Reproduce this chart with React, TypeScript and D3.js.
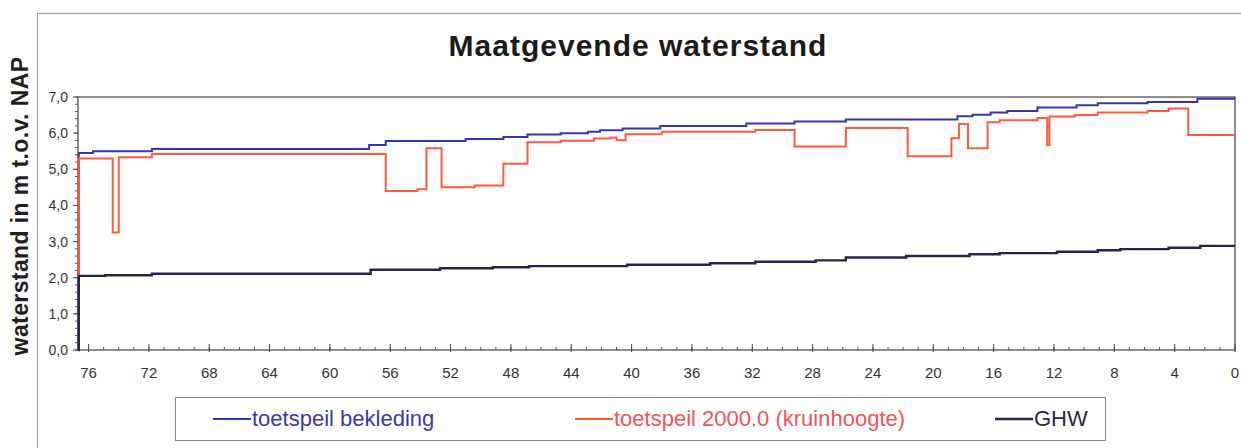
import { useEffect, useRef } from 'react';
import * as d3 from 'd3';

// km (dijkpaal) vs. waterstand
const toetspeilBekleding: [number, number][] = [
  [76.7, 0], [76.65, 5.45], [75.7, 5.5], [71.8, 5.56], [57.4, 5.67], [56.3, 5.78],
  [51.0, 5.84], [48.5, 5.89], [46.9, 5.96], [44.7, 6.0], [42.9, 6.04], [42.1, 6.08],
  [40.6, 6.13], [38.1, 6.2], [32.4, 6.27], [29.2, 6.32], [25.8, 6.38], [18.4, 6.47],
  [17.4, 6.51], [16.2, 6.57], [15.1, 6.61], [13.1, 6.71], [10.5, 6.77], [9.1, 6.83],
  [5.8, 6.86], [2.5, 6.95], [0, 6.95],
];

const toetspeil2000: [number, number][] = [
  [76.7, 0], [76.65, 5.3], [74.4, 3.25], [74.0, 5.33], [71.8, 5.42], [56.3, 4.4],
  [54.2, 4.45], [53.6, 5.58], [52.6, 4.5], [50.4, 4.55], [48.5, 5.15], [46.9, 5.75],
  [44.7, 5.79], [42.5, 5.85], [41.4, 5.88], [41.0, 5.8], [40.4, 5.97], [38.0, 6.04],
  [31.8, 6.09], [29.2, 5.63], [25.8, 6.14], [21.7, 5.36], [18.8, 5.86], [18.3, 6.25],
  [17.7, 5.58], [16.4, 6.3], [15.6, 6.36], [13.1, 6.42], [12.45, 5.67], [12.3, 6.46],
  [10.6, 6.5], [9.1, 6.57], [5.8, 6.61], [4.4, 6.68], [3.1, 5.95], [0, 5.95],
];

const ghw: [number, number][] = [
  [76.7, 0], [76.65, 2.05], [74.9, 2.07], [71.8, 2.11], [57.3, 2.22], [52.7, 2.26],
  [49.2, 2.29], [46.8, 2.32], [40.3, 2.36], [34.8, 2.4], [31.8, 2.44], [27.8, 2.48],
  [25.8, 2.56], [21.8, 2.6], [17.6, 2.65], [15.6, 2.68], [11.8, 2.72], [9.1, 2.76],
  [7.6, 2.79], [4.4, 2.83], [2.3, 2.88], [0, 2.88],
];

const xTicks = [76, 72, 68, 64, 60, 56, 52, 48, 44, 40, 36, 32, 28, 24, 20, 16, 12, 8, 4, 0];
const yTicks = [0, 1, 2, 3, 4, 5, 6, 7];

const series = [
  { name: 'toetspeil bekleding', data: toetspeilBekleding, color: '#3535b0', text: '#3a3aa8', width: 2 },
  { name: 'toetspeil 2000.0 (kruinhoogte)', data: toetspeil2000, color: '#ff5a3c', text: '#f2555a', width: 2 },
  { name: 'GHW', data: ghw, color: '#24244e', text: '#2a2a3a', width: 2.4 },
];

export default function App() {
  const svgRef = useRef<SVGSVGElement>(null);

  useEffect(() => {
    if (!svgRef.current) return;
    const width = 1241;
    const height = 448;
    const font = 'Arial, "Liberation Sans", sans-serif';

    const root = d3.select(svgRef.current);
    root.selectAll('*').remove();
    root.attr('width', width).attr('height', height);

    root.append('rect').attr('width', width).attr('height', height).attr('fill', '#fff');

    // outer frame (scanned figure border)
    root
      .append('rect')
      .attr('x', 37.5)
      .attr('y', 13.5)
      .attr('width', width)
      .attr('height', height)
      .attr('fill', 'none')
      .attr('stroke', '#9a9a9a')
      .attr('stroke-width', 1);

    const x = d3.scaleLinear().domain([76.7, 0]).range([78, 1235]);
    const y = d3.scaleLinear().domain([0, 7]).range([350, 97]);

    // title
    root
      .append('text')
      .attr('x', 638)
      .attr('y', 56)
      .attr('text-anchor', 'middle')
      .attr('font-family', font)
      .attr('font-weight', 'bold')
      .attr('font-size', 30)
      .attr('letter-spacing', 1)
      .attr('fill', '#1a1a1a')
      .text('Maatgevende waterstand');

    // y label
    root
      .append('text')
      .attr('transform', 'translate(28,206) rotate(-90)')
      .attr('text-anchor', 'middle')
      .attr('font-family', font)
      .attr('font-weight', 'bold')
      .attr('font-size', 23)
      .attr('letter-spacing', 0.4)
      .attr('fill', '#1f1f1f')
      .text('waterstand in m t.o.v. NAP');

    // plot frame
    root
      .append('rect')
      .attr('x', x(76.7))
      .attr('y', y(7))
      .attr('width', x(0) - x(76.7))
      .attr('height', y(0) - y(7))
      .attr('fill', 'none')
      .attr('stroke', '#4a4040')
      .attr('stroke-width', 1.2);

    // y axis
    const yAxis = root.append('g').attr('transform', `translate(${x(76.7)},0)`);
    yAxis
      .selectAll('line.minor')
      .data(d3.range(0, 7.01, 0.2))
      .enter()
      .append('line')
      .attr('x1', -3)
      .attr('x2', 0)
      .attr('y1', (d) => y(d))
      .attr('y2', (d) => y(d))
      .attr('stroke', '#555');
    yAxis
      .selectAll('line.major')
      .data(yTicks)
      .enter()
      .append('line')
      .attr('x1', -5)
      .attr('x2', 0)
      .attr('y1', (d) => y(d))
      .attr('y2', (d) => y(d))
      .attr('stroke', '#444');
    yAxis
      .selectAll('text')
      .data(yTicks)
      .enter()
      .append('text')
      .attr('x', -10)
      .attr('y', (d) => y(d) + 5)
      .attr('text-anchor', 'end')
      .attr('font-family', font)
      .attr('font-size', 14)
      .attr('fill', '#333')
      .text((d) => d3.format('.1f')(d).replace('.', ','));

    // x axis
    const xAxis = root.append('g').attr('transform', `translate(0,${y(0)})`);
    xAxis
      .selectAll('line.minor')
      .data(d3.range(0, 77, 1))
      .enter()
      .append('line')
      .attr('x1', (d) => x(d))
      .attr('x2', (d) => x(d))
      .attr('y1', -3)
      .attr('y2', 0)
      .attr('stroke', '#555');
    xAxis
      .selectAll('line.major')
      .data(xTicks)
      .enter()
      .append('line')
      .attr('x1', (d) => x(d))
      .attr('x2', (d) => x(d))
      .attr('y1', -6)
      .attr('y2', 2)
      .attr('stroke', '#444');
    xAxis
      .selectAll('text')
      .data(xTicks)
      .enter()
      .append('text')
      .attr('x', (d) => x(d))
      .attr('y', 28)
      .attr('text-anchor', 'middle')
      .attr('font-family', font)
      .attr('font-size', 15)
      .attr('fill', '#333')
      .text((d) => d);

    // series
    const line = d3
      .line<[number, number]>()
      .x((d) => x(d[0]))
      .y((d) => y(d[1]))
      .curve(d3.curveStepAfter);

    series.forEach((s) => {
      root
        .append('path')
        .datum(s.data)
        .attr('fill', 'none')
        .attr('stroke', s.color)
        .attr('stroke-width', s.width)
        .attr('d', line);
    });

    // legend
    const legend = root.append('g');
    legend
      .append('rect')
      .attr('x', 175.5)
      .attr('y', 397.5)
      .attr('width', 930)
      .attr('height', 43)
      .attr('fill', '#fff')
      .attr('stroke', '#8a8a8a');

    const legendX = [213, 575, 995];
    series.forEach((s, i) => {
      legend
        .append('line')
        .attr('x1', legendX[i])
        .attr('x2', legendX[i] + 38)
        .attr('y1', 419)
        .attr('y2', 419)
        .attr('stroke', s.color)
        .attr('stroke-width', s.width);
      legend
        .append('text')
        .attr('x', legendX[i] + 39)
        .attr('y', 426)
        .attr('font-family', font)
        .attr('font-size', 22)
        .attr('fill', s.text)
        .text(s.name);
    });
  }, []);

  return (
    <div style={{ position: 'absolute', left: 0, top: 0 }}>
      <svg ref={svgRef}></svg>
    </div>
  );
}
